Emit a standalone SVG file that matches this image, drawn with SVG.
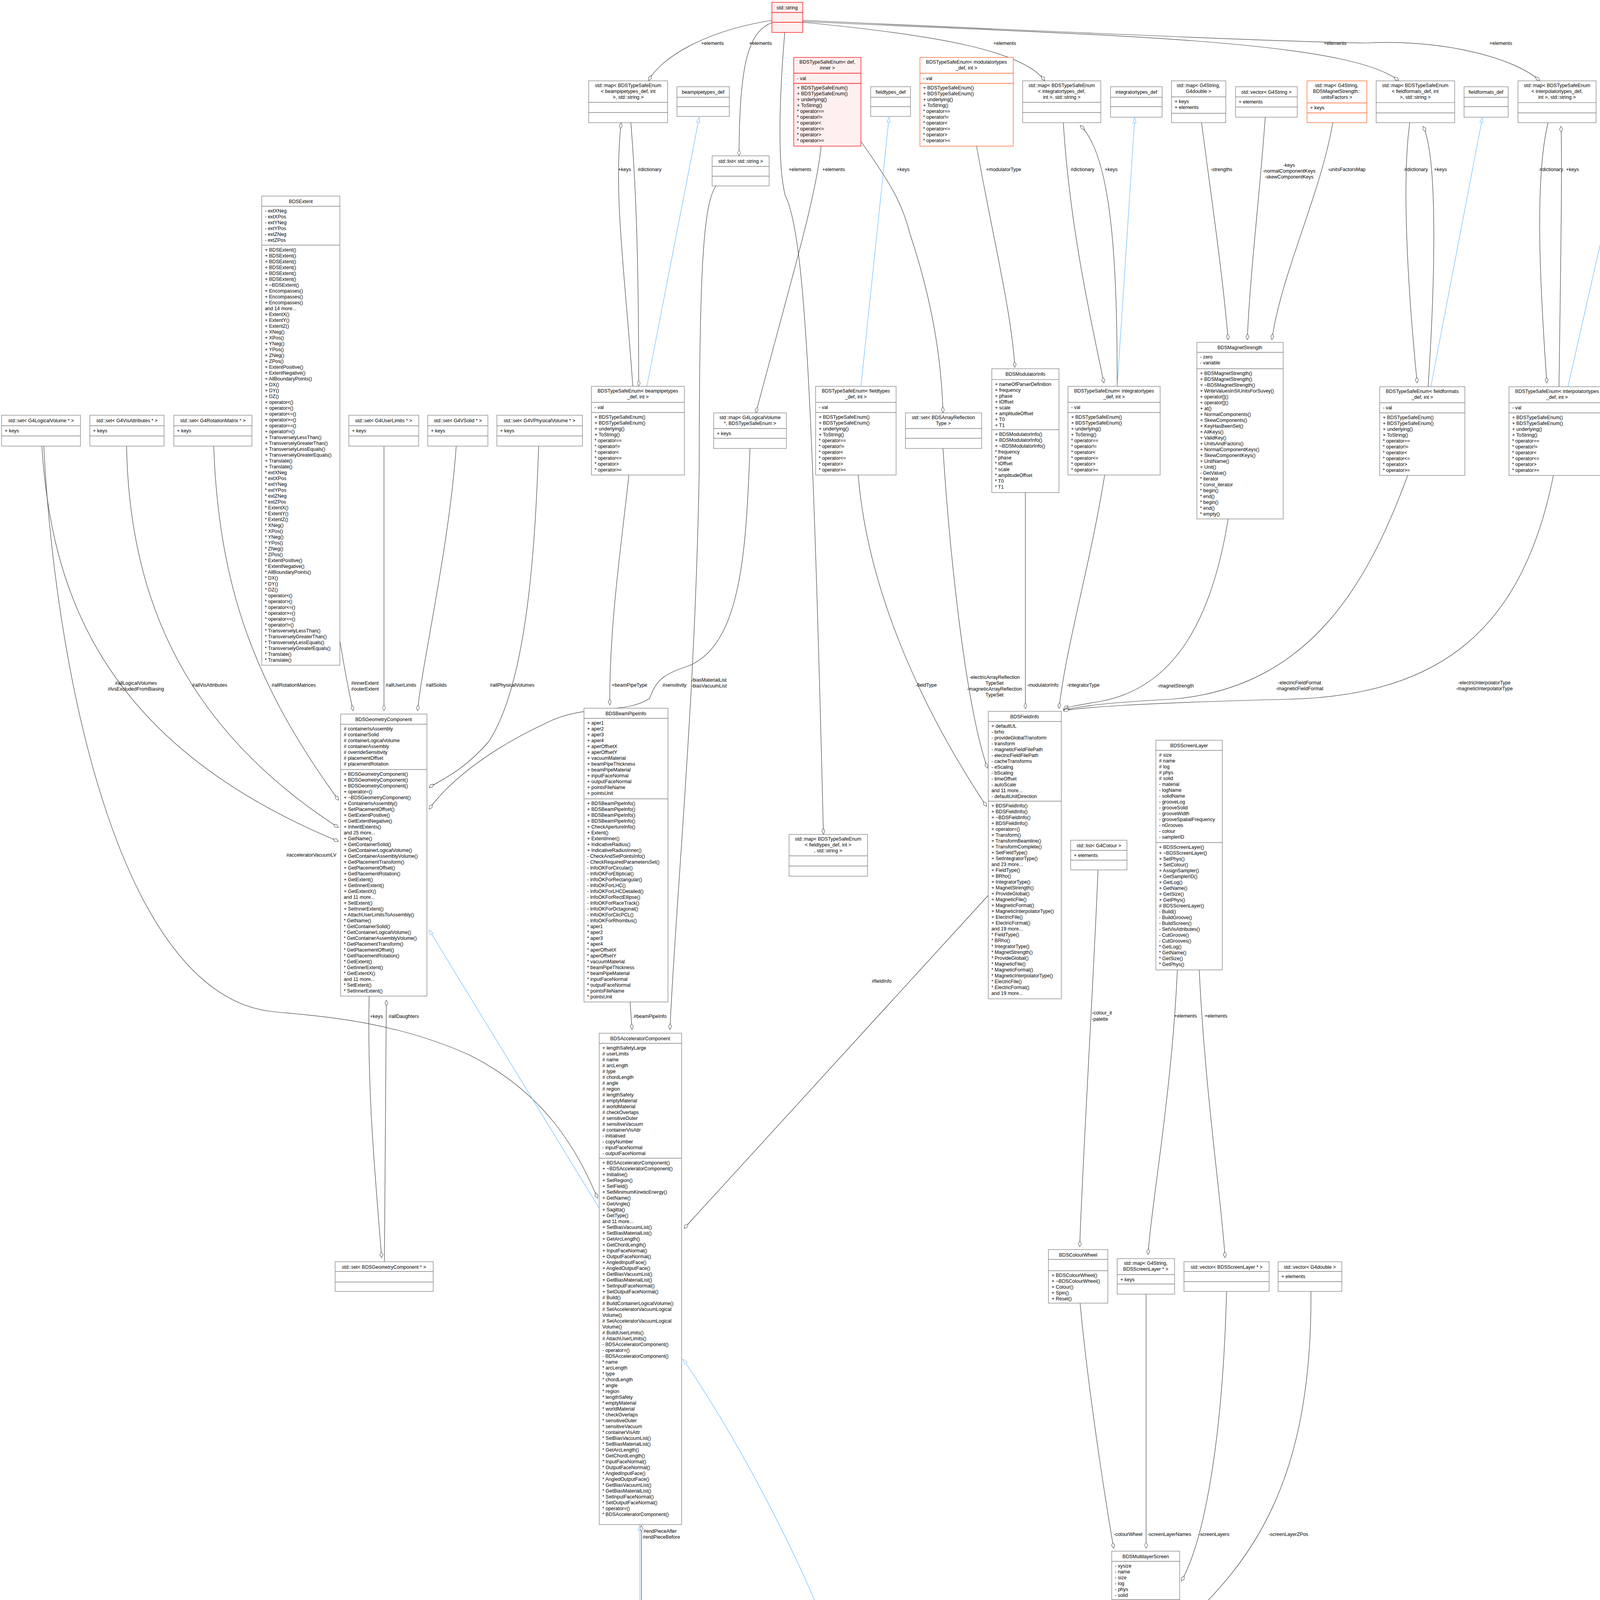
<svg xmlns="http://www.w3.org/2000/svg" width="4259" height="4765" viewBox="0 0 4259 4765">
<style>
text{font-family:"Liberation Sans",Arial,sans-serif;font-size:12.5px;fill:#000}
.t{text-anchor:middle}
.b{fill:#fff;stroke:#808080;stroke-width:1.3}
.r{fill:#fff0f0;stroke:#ff0000;stroke-width:1.3}
.o{fill:#fff;stroke:#ff6020;stroke-width:1.3}
.g{fill:#999;stroke:#666;stroke-width:1.3}
.dv{stroke:#808080;stroke-width:1.3;fill:none}
.dr{stroke:#ff0000;stroke-width:1.3;fill:none}
.do{stroke:#ff6020;stroke-width:1.3;fill:none}
.e{fill:none;stroke:#404040;stroke-width:1.2;marker-end:url(#dia)}
.i{fill:none;stroke:#63b8ff;stroke-width:1.2;marker-end:url(#tri)}
.l{text-anchor:start}
.lc{text-anchor:middle}
</style>
<defs>
<marker id="dia" viewBox="0 0 16 9" refX="16" refY="4.5" markerWidth="16" markerHeight="9" markerUnits="userSpaceOnUse" orient="auto"><path d="M0.5,4.5 L8,0.5 L15.5,4.5 L8,8.5 Z" fill="#fff" stroke="#404040" stroke-width="1"/></marker>
<marker id="tri" viewBox="0 0 14 10" refX="14" refY="5" markerWidth="14" markerHeight="10" markerUnits="userSpaceOnUse" orient="auto"><path d="M0.5,0.5 L13.5,5 L0.5,9.5 Z" fill="#fff" stroke="#63b8ff" stroke-width="1"/></marker>
</defs>
<rect width="4259" height="4765" fill="#fff"/>
<g id="edges">
<path class="e" d="M1976,52 C1800,80 1690,150 1660,207"/><text x="1824" y="115" class="lc">+elements</text>
<path class="e" d="M1976,58 C1920,80 1892,150 1892,399"/><text x="1947" y="115" class="lc">+elements</text>
<path class="e" d="M2009,83 C1995,250 1990,420 2010,500 C2060,600 2080,1000 2108,2136"/><text x="2048" y="438" class="lc">+elements</text>
<path class="e" d="M2102,374 C2090,500 2030,700 1935,1057"/><text x="2134" y="438" class="lc">+elements</text>
<path class="e" d="M2204,362 C2280,470 2310,520 2330,600 C2380,750 2410,900 2414,1057"/><text x="2312" y="438" class="lc">+keys</text>
<path class="e" d="M2055,57 C2400,90 2620,130 2675,207"/><text x="2572" y="115" class="lc">+elements</text>
<path class="e" d="M2055,55 C2800,90 3450,100 3581,207"/><text x="3418" y="115" class="lc">+elements</text>
<path class="e" d="M2055,52 C3000,95 3400,110 3500,110 C3700,100 3880,150 3942,207"/><text x="3842" y="115" class="lc">+elements</text>
<path class="e" d="M1620,989 C1600,700 1570,500 1590,314"/><text x="1599" y="438" class="lc">+keys</text>
<path class="e" d="M1615,314 C1630,500 1635,700 1635,989"/><text x="1663" y="438" class="lc">#dictionary</text>
<path class="i" d="M1656,989 L1790,300"/>
<path class="e" d="M1833,476 C1800,520 1790,700 1790,1200 C1780,1800 1730,2300 1715,2636"/><text x="1769" y="1745" class="l">-biasMaterialList</text><text x="1769" y="1760" class="l">-biasVacuumList</text>
<path class="i" d="M2204,989 L2276,300"/>
<path class="e" d="M2500,374 C2540,600 2590,800 2598,941"/><text x="2524" y="438" class="l">+modulatorType</text>
<path class="e" d="M2722,314 C2740,600 2800,850 2826,981"/><text x="2741" y="438" class="l">#dictionary</text>
<path class="e" d="M2860,990 C2860,700 2850,400 2765,321"/><text x="2828" y="438" class="l">+keys</text>
<path class="i" d="M2860,990 L2905,301"/>
<path class="e" d="M3076,314 C3100,500 3130,700 3144,870"/><text x="3099" y="438" class="l">-strengths</text>
<path class="e" d="M3239,300 C3225,500 3200,700 3193,870"/><text x="3300" y="427" class="lc">-keys</text><text x="3300" y="442" class="lc">-normalComponentKeys</text><text x="3300" y="457" class="lc">-skewComponentKeys</text>
<path class="e" d="M3412,314 C3380,500 3280,700 3256,870"/><text x="3399" y="438" class="l">-unitsFactorsMap</text>
<path class="e" d="M3609,314 C3590,450 3600,700 3628,981"/><text x="3595" y="438" class="l">#dictionary</text>
<path class="e" d="M3656,990 C3675,700 3680,400 3643,323"/><text x="3671" y="438" class="l">+keys</text>
<path class="i" d="M3663,990 L3795,301"/>
<path class="e" d="M3963,314 C3930,450 3940,700 3960,981"/><text x="3941" y="438" class="l">#dictionary</text>
<path class="e" d="M3991,990 C3995,700 4000,400 3996,323"/><text x="4009" y="438" class="l">+keys</text>
<path class="i" d="M4014,990 L4170,301"/>
<path class="e" d="M2197,1216 C2220,1500 2350,1800 2526,2065"/><text x="2344" y="1758" class="l">-fieldType</text>
<path class="e" d="M2414,1148 C2430,1400 2470,1800 2528,1967"/><text x="2546" y="1738" class="lc">-electricArrayReflection</text><text x="2546" y="1753" class="lc">TypeSet</text><text x="2546" y="1768" class="lc">-magneticArrayReflection</text><text x="2546" y="1783" class="lc">TypeSet</text>
<path class="e" d="M2625,1261 L2625,1815"/><text x="2629" y="1758" class="l">-modulatorInfo</text>
<path class="e" d="M2828,1216 C2790,1450 2730,1650 2711,1814"/><text x="2731" y="1758" class="l">-integratorType</text>
<path class="e" d="M3144,1329 C3100,1600 3000,1760 2820,1795 C2760,1805 2730,1810 2722,1816"/><text x="2963" y="1760" class="l">-magnetStrength</text>
<path class="e" d="M3604,1216 C3500,1500 3350,1760 3000,1790 C2800,1800 2750,1812 2722,1818"/><text x="3327" y="1752" class="lc">-electricFieldFormat</text><text x="3327" y="1767" class="lc">-magneticFieldFormat</text>
<path class="e" d="M3977,1216 C3900,1600 3700,1780 3300,1790 C2900,1800 2760,1812 2722,1820"/><text x="3800" y="1752" class="lc">-electricInterpolatorType</text><text x="3800" y="1767" class="lc">-magneticInterpolatorType</text>
<path class="e" d="M870,1640 C880,1700 895,1780 904,1820"/><text x="899" y="1753" class="l">#innerExtent</text><text x="899" y="1768" class="l">#outerExtent</text>
<path class="e" d="M983,1141 L983,1820"/><text x="987" y="1758" class="l">#allUserLimits</text>
<path class="e" d="M1168,1141 C1150,1400 1080,1700 1069,1820"/><text x="1090" y="1758" class="l">#allSolids</text>
<path class="e" d="M1379,1141 C1370,1400 1350,1750 1250,1900 C1180,1980 1120,2000 1098,2017"/><text x="1254" y="1758" class="l">#allPhysicalVolumes</text>
<path class="e" d="M547,1141 C560,1500 650,1750 867,2049"/><text x="695" y="1758" class="l">#allRotationMatrices</text>
<path class="e" d="M324,1141 C330,1500 450,1850 867,2119"/><text x="492" y="1758" class="l">#allVisAttributes</text>
<path class="e" d="M107,1141 C130,1500 250,1900 867,2154"/><text x="348" y="1753" class="lc">#allLogicalVolumes</text><text x="348" y="1768" class="lc">#lvsExcludedFromBiasing</text>
<path class="e" d="M112,1141 C140,1700 300,2550 700,2590 C800,2600 1000,2610 1200,2700 C1400,2800 1480,2950 1530,3068"/><text x="861" y="2193" text-anchor="end">#acceleratorVacuumLV</text>
<path class="e" d="M1920,1148 C1910,1400 1900,1650 1762,1705 C1700,1725 1680,1740 1663,1788 C1600,1830 1500,1800 1400,1850 C1250,1920 1150,2000 1098,2072"/><text x="1696" y="1758" class="l">#sensitivity</text>
<path class="e" d="M1610,1216 C1590,1400 1560,1600 1561,1805"/><text x="1566" y="1758" class="l">+beamPipeType</text>
<path class="e" d="M945,2550 C940,2800 960,3000 977,3220"/><text x="947" y="2606" class="l">+keys</text>
<path class="e" d="M984,3230 C985,3000 990,2700 989,2560"/><text x="995" y="2606" class="l">#allDaughters</text>
<path class="i" d="M1534,3093 L1098,2380"/>
<path class="e" d="M1613,2565 L1618,2636"/><text x="1622" y="2606" class="l">#beamPipeInfo</text>
<path class="e" d="M2530,2292 L1751,3145"/><text x="2257" y="2516" class="lc">#fieldInfo</text>
<path class="i" d="M1638,4143 L1638,3904"/>
<path class="e" d="M1642,4143 L1642,3905"/><text x="1647" y="3924" class="l">#endPieceAfter</text><text x="1645" y="3939" class="l">#endPieceBefore</text>
<path class="i" d="M2110,4158 C2050,4000 1900,3700 1748,3479"/>
<path class="i" d="M2522,4594 L2233,4311"/>
<path class="e" d="M2507,4273 C2505,4400 2520,4500 2537,4561"/><text x="2537" y="4530" class="l">-layerThicknesses</text>
<path class="e" d="M2674,4273 C2672,4400 2650,4500 2639,4561"/><text x="2650" y="4530" class="l">-layerMaterials</text>
<path class="e" d="M2846,4391 C2780,4470 2720,4580 2667,4604"/><text x="2757" y="4530" class="l">-mlScreen</text>
<path class="e" d="M2811,2227 C2800,2500 2770,3000 2764,3192"/><text x="2795" y="2597" class="l">-colour_it</text><text x="2795" y="2613" class="l">-palette</text>
<path class="e" d="M3014,2483 C3000,2800 2945,3100 2939,3212"/><text x="3006" y="2605" class="l">+elements</text>
<path class="e" d="M3070,2483 C3085,2800 3130,3100 3136,3220"/><text x="3084" y="2605" class="l">+elements</text>
<path class="e" d="M2765,3336 C2790,3600 2840,3900 2851,3964"/><text x="2851" y="3932" class="l">-colourWheel</text>
<path class="e" d="M2934,3313 L2934,3964"/><text x="2937" y="3932" class="l">-screenLayerNames</text>
<path class="e" d="M3140,3305 C3130,3700 3080,3950 3024,4048"/><text x="3068" y="3932" class="l">-screenLayers</text>
<path class="e" d="M3356,3305 C3360,3800 3200,4000 3027,4162"/><text x="3247" y="3932" class="l">-screenLayerZPos</text>
</g>

<g id="n_string"><rect class="r" x="1976" y="6" width="79" height="77"/><path class="dr" d="M1976,32H2055M1976,57H2055"/><text class="t" x="2015" y="24">std::string</text></g>
<g id="n_map_beampipe"><rect class="b" x="1507" y="207" width="202" height="107"/><path class="dv" d="M1507,262H1709M1507,288H1709"/><text class="t" x="1608" y="223">std::map&lt; BDSTypeSafeEnum</text><text class="t" x="1608" y="238">&lt; beampipetypes_def, int</text><text class="t" x="1608" y="253">&gt;, std::string &gt;</text></g>
<g id="n_beampipetypes_def"><rect class="b" x="1733" y="222" width="134" height="76"/><path class="dv" d="M1733,249H1867M1733,273H1867"/><text class="t" x="1800" y="240">beampipetypes_def</text></g>
<g id="n_list_string"><rect class="b" x="1823" y="399" width="146" height="77"/><path class="dv" d="M1823,426H1969M1823,451H1969"/><text class="t" x="1896" y="417">std::list&lt; std::string &gt;</text></g>
<g id="n_enum_def_inner"><rect class="r" x="2032" y="147" width="172" height="227"/><path class="dr" d="M2032,187.5H2204M2032,213.5H2204"/><text class="t" x="2118" y="163">BDSTypeSafeEnum&lt; def,</text><text class="t" x="2118" y="178">inner &gt;</text><text x="2040" y="205">- val</text><text x="2040" y="229"><tspan x="2040">+ BDSTypeSafeEnum()</tspan><tspan x="2040" dy="15">+ BDSTypeSafeEnum()</tspan><tspan x="2040" dy="15">+ underlying()</tspan><tspan x="2040" dy="15">+ ToString()</tspan><tspan x="2040" dy="15">* operator==</tspan><tspan x="2040" dy="15">* operator!=</tspan><tspan x="2040" dy="15">* operator&lt;</tspan><tspan x="2040" dy="15">* operator&lt;=</tspan><tspan x="2040" dy="15">* operator&gt;</tspan><tspan x="2040" dy="15">* operator&gt;=</tspan></text></g>
<g id="n_fieldtypes_def"><rect class="b" x="2229" y="222" width="102" height="76"/><path class="dv" d="M2229,249H2331M2229,273H2331"/><text class="t" x="2280" y="240">fieldtypes_def</text></g>
<g id="n_enum_modulator"><rect class="o" x="2355" y="147" width="239" height="227"/><path class="do" d="M2355,187.5H2594M2355,213.5H2594"/><text class="t" x="2474" y="163">BDSTypeSafeEnum&lt; modulatortypes</text><text class="t" x="2474" y="178">_def, int &gt;</text><text x="2363" y="205">- val</text><text x="2363" y="229"><tspan x="2363">+ BDSTypeSafeEnum()</tspan><tspan x="2363" dy="15">+ BDSTypeSafeEnum()</tspan><tspan x="2363" dy="15">+ underlying()</tspan><tspan x="2363" dy="15">+ ToString()</tspan><tspan x="2363" dy="15">* operator==</tspan><tspan x="2363" dy="15">* operator!=</tspan><tspan x="2363" dy="15">* operator&lt;</tspan><tspan x="2363" dy="15">* operator&lt;=</tspan><tspan x="2363" dy="15">* operator&gt;</tspan><tspan x="2363" dy="15">* operator&gt;=</tspan></text></g>
<g id="n_map_integrator"><rect class="b" x="2618" y="207" width="200" height="107"/><path class="dv" d="M2618,262H2818M2618,288H2818"/><text class="t" x="2718" y="223">std::map&lt; BDSTypeSafeEnum</text><text class="t" x="2718" y="238">&lt; integratortypes_def,</text><text class="t" x="2718" y="253">int &gt;, std::string &gt;</text></g>
<g id="n_integratortypes_def"><rect class="b" x="2843" y="222" width="132" height="78"/><path class="dv" d="M2843,249H2975M2843,273H2975"/><text class="t" x="2909" y="240">integratortypes_def</text></g>
<g id="n_map_g4s_g4d"><rect class="b" x="2999" y="207" width="139" height="107"/><path class="dv" d="M2999,248H3138M2999,290H3138"/><text class="t" x="3068" y="223">std::map&lt; G4String,</text><text class="t" x="3068" y="238">G4double &gt;</text><text x="3007" y="264">+ keys</text><text x="3007" y="279">+ elements</text></g>
<g id="n_vector_g4string"><rect class="b" x="3163" y="222" width="158" height="78"/><path class="dv" d="M3163,248H3321M3163,274H3321"/><text class="t" x="3242" y="240">std::vector&lt; G4String &gt;</text><text x="3171" y="265">+ elements</text></g>
<g id="n_map_unitsFactors"><rect class="o" x="3346" y="207" width="153" height="107"/><path class="do" d="M3346,263.5H3499M3346,289H3499"/><text class="t" x="3422" y="223">std::map&lt; G4String,</text><text class="t" x="3422" y="238">BDSMagnetStrength::</text><text class="t" x="3422" y="253">unitsFactors &gt;</text><text x="3354" y="280">+ keys</text></g>
<g id="n_map_fieldformats"><rect class="b" x="3523" y="207" width="201" height="107"/><path class="dv" d="M3523,262.6H3724M3523,289H3724"/><text class="t" x="3623" y="223">std::map&lt; BDSTypeSafeEnum</text><text class="t" x="3623" y="238">&lt; fieldformats_def, int</text><text class="t" x="3623" y="253">&gt;, std::string &gt;</text></g>
<g id="n_fieldformats_def"><rect class="b" x="3748" y="222" width="113" height="78"/><path class="dv" d="M3748,249H3861M3748,273H3861"/><text class="t" x="3804" y="240">fieldformats_def</text></g>
<g id="n_map_interp"><rect class="b" x="3886" y="207" width="200" height="107"/><path class="dv" d="M3886,262.6H4086M3886,289H4086"/><text class="t" x="3986" y="223">std::map&lt; BDSTypeSafeEnum</text><text class="t" x="3986" y="238">&lt; interpolatortypes_def,</text><text class="t" x="3986" y="253">int &gt;, std::string &gt;</text></g>
<g id="n_interpolatortypes_def"><rect class="b" x="4111" y="222" width="142" height="78"/><path class="dv" d="M4111,249H4253M4111,273H4253"/><text class="t" x="4182" y="240">interpolatortypes_def</text></g>

<g id="n_enum_beampipe"><rect class="b" x="1514" y="989" width="238" height="227"/><path class="dv" d="M1514,1030H1752M1514,1056H1752"/><text class="t" x="1633" y="1005">BDSTypeSafeEnum&lt; beampipetypes</text><text class="t" x="1633" y="1020">_def, int &gt;</text><text x="1522" y="1047">- val</text><text x="1522" y="1072"><tspan x="1522">+ BDSTypeSafeEnum()</tspan><tspan x="1522" dy="15">+ BDSTypeSafeEnum()</tspan><tspan x="1522" dy="15">+ underlying()</tspan><tspan x="1522" dy="15">+ ToString()</tspan><tspan x="1522" dy="15">* operator==</tspan><tspan x="1522" dy="15">* operator!=</tspan><tspan x="1522" dy="15">* operator&lt;</tspan><tspan x="1522" dy="15">* operator&lt;=</tspan><tspan x="1522" dy="15">* operator&gt;</tspan><tspan x="1522" dy="15">* operator&gt;=</tspan></text></g>
<g id="n_map_lv"><rect class="b" x="1827" y="1057" width="186" height="91"/><path class="dv" d="M1827,1097H2013M1827,1122H2013"/><text class="t" x="1920" y="1073">std::map&lt; G4LogicalVolume</text><text class="t" x="1920" y="1088">*, BDSTypeSafeEnum &gt;</text><text x="1835" y="1114">+ keys</text></g>
<g id="n_enum_fieldtypes"><rect class="b" x="2088" y="989" width="206" height="227"/><path class="dv" d="M2088,1030H2294M2088,1056H2294"/><text class="t" x="2191" y="1005">BDSTypeSafeEnum&lt; fieldtypes</text><text class="t" x="2191" y="1020">_def, int &gt;</text><text x="2096" y="1047">- val</text><text x="2096" y="1072"><tspan x="2096">+ BDSTypeSafeEnum()</tspan><tspan x="2096" dy="15">+ BDSTypeSafeEnum()</tspan><tspan x="2096" dy="15">+ underlying()</tspan><tspan x="2096" dy="15">+ ToString()</tspan><tspan x="2096" dy="15">* operator==</tspan><tspan x="2096" dy="15">* operator!=</tspan><tspan x="2096" dy="15">* operator&lt;</tspan><tspan x="2096" dy="15">* operator&lt;=</tspan><tspan x="2096" dy="15">* operator&gt;</tspan><tspan x="2096" dy="15">* operator&gt;=</tspan></text></g>
<g id="n_set_arrayrefl"><rect class="b" x="2318" y="1057" width="195" height="91"/><path class="dv" d="M2318,1097H2513M2318,1122H2513"/><text class="t" x="2415" y="1073">std::set&lt; BDSArrayReflection</text><text class="t" x="2415" y="1088">Type &gt;</text></g>
<g id="n_modulatorinfo"><rect class="b" x="2539" y="944" width="172" height="317"/><path class="dv" d="M2539,971.6H2711M2539,1100H2711"/><text class="t" x="2625" y="962">BDSModulatorInfo</text><text x="2547" y="988"><tspan x="2547">+ nameOfParserDefinition</tspan><tspan x="2547" dy="15">+ frequency</tspan><tspan x="2547" dy="15">+ phase</tspan><tspan x="2547" dy="15">+ tOffset</tspan><tspan x="2547" dy="15">+ scale</tspan><tspan x="2547" dy="15">+ amplitudeOffset</tspan><tspan x="2547" dy="15">+ T0</tspan><tspan x="2547" dy="15">+ T1</tspan></text><text x="2547" y="1116"><tspan x="2547">+ BDSModulatorInfo()</tspan><tspan x="2547" dy="15">+ BDSModulatorInfo()</tspan><tspan x="2547" dy="15">+ ~BDSModulatorInfo()</tspan><tspan x="2547" dy="15">* frequency</tspan><tspan x="2547" dy="15">* phase</tspan><tspan x="2547" dy="15">* tOffset</tspan><tspan x="2547" dy="15">* scale</tspan><tspan x="2547" dy="15">* amplitudeOffset</tspan><tspan x="2547" dy="15">* T0</tspan><tspan x="2547" dy="15">* T1</tspan></text></g>
<g id="n_enum_integrator"><rect class="b" x="2734" y="989" width="236" height="227"/><path class="dv" d="M2734,1030H2970M2734,1056H2970"/><text class="t" x="2852" y="1005">BDSTypeSafeEnum&lt; integratortypes</text><text class="t" x="2852" y="1020">_def, int &gt;</text><text x="2742" y="1047">- val</text><text x="2742" y="1072"><tspan x="2742">+ BDSTypeSafeEnum()</tspan><tspan x="2742" dy="15">+ BDSTypeSafeEnum()</tspan><tspan x="2742" dy="15">+ underlying()</tspan><tspan x="2742" dy="15">+ ToString()</tspan><tspan x="2742" dy="15">* operator==</tspan><tspan x="2742" dy="15">* operator!=</tspan><tspan x="2742" dy="15">* operator&lt;</tspan><tspan x="2742" dy="15">* operator&lt;=</tspan><tspan x="2742" dy="15">* operator&gt;</tspan><tspan x="2742" dy="15">* operator&gt;=</tspan></text></g>
<g id="n_magnetstrength"><rect class="b" x="3064" y="876.5" width="221" height="452"/><path class="dv" d="M3064,902H3285M3064,944H3285"/><text class="t" x="3174" y="894">BDSMagnetStrength</text><text x="3072" y="918">- zero</text><text x="3072" y="933">- variable</text><text x="3072" y="960"><tspan x="3072">+ BDSMagnetStrength()</tspan><tspan x="3072" dy="15">+ BDSMagnetStrength()</tspan><tspan x="3072" dy="15">+ ~BDSMagnetStrength()</tspan><tspan x="3072" dy="15">+ WriteValuesInSIUnitsForSuvey()</tspan><tspan x="3072" dy="15">+ operator[]()</tspan><tspan x="3072" dy="15">+ operator[]()</tspan><tspan x="3072" dy="15">+ at()</tspan><tspan x="3072" dy="15">+ NormalComponents()</tspan><tspan x="3072" dy="15">+ SkewComponents()</tspan><tspan x="3072" dy="15">+ KeyHasBeenSet()</tspan><tspan x="3072" dy="15">+ AllKeys()</tspan><tspan x="3072" dy="15">+ ValidKey()</tspan><tspan x="3072" dy="15">+ UnitsAndFactors()</tspan><tspan x="3072" dy="15">+ NormalComponentKeys()</tspan><tspan x="3072" dy="15">+ SkewComponentKeys()</tspan><tspan x="3072" dy="15">+ UnitName()</tspan><tspan x="3072" dy="15">+ Unit()</tspan><tspan x="3072" dy="15">- GetValue()</tspan><tspan x="3072" dy="15">* iterator</tspan><tspan x="3072" dy="15">* const_iterator</tspan><tspan x="3072" dy="15">* begin()</tspan><tspan x="3072" dy="15">* end()</tspan><tspan x="3072" dy="15">* begin()</tspan><tspan x="3072" dy="15">* end()</tspan><tspan x="3072" dy="15">* empty()</tspan></text></g>
<g id="n_enum_fieldformats"><rect class="b" x="3532" y="990" width="218" height="227"/><path class="dv" d="M3532,1031H3750M3532,1057H3750"/><text class="t" x="3641" y="1006">BDSTypeSafeEnum&lt; fieldformats</text><text class="t" x="3641" y="1021">_def, int &gt;</text><text x="3540" y="1048">- val</text><text x="3540" y="1073"><tspan x="3540">+ BDSTypeSafeEnum()</tspan><tspan x="3540" dy="15">+ BDSTypeSafeEnum()</tspan><tspan x="3540" dy="15">+ underlying()</tspan><tspan x="3540" dy="15">+ ToString()</tspan><tspan x="3540" dy="15">* operator==</tspan><tspan x="3540" dy="15">* operator!=</tspan><tspan x="3540" dy="15">* operator&lt;</tspan><tspan x="3540" dy="15">* operator&lt;=</tspan><tspan x="3540" dy="15">* operator&gt;</tspan><tspan x="3540" dy="15">* operator&gt;=</tspan></text></g>
<g id="n_enum_interp"><rect class="b" x="3863" y="990" width="246" height="227"/><path class="dv" d="M3863,1031H4109M3863,1057H4109"/><text class="t" x="3986" y="1006">BDSTypeSafeEnum&lt; interpolatortypes</text><text class="t" x="3986" y="1021">_def, int &gt;</text><text x="3871" y="1048">- val</text><text x="3871" y="1073"><tspan x="3871">+ BDSTypeSafeEnum()</tspan><tspan x="3871" dy="15">+ BDSTypeSafeEnum()</tspan><tspan x="3871" dy="15">+ underlying()</tspan><tspan x="3871" dy="15">+ ToString()</tspan><tspan x="3871" dy="15">* operator==</tspan><tspan x="3871" dy="15">* operator!=</tspan><tspan x="3871" dy="15">* operator&lt;</tspan><tspan x="3871" dy="15">* operator&lt;=</tspan><tspan x="3871" dy="15">* operator&gt;</tspan><tspan x="3871" dy="15">* operator&gt;=</tspan></text></g>

<g id="n_set_lv"><rect class="b" x="4" y="1063" width="202" height="79"/><path class="dv" d="M4,1090H206M4,1116H206"/><text class="t" x="105" y="1081">std::set&lt; G4LogicalVolume * &gt;</text><text x="12" y="1107">+ keys</text></g>
<g id="n_set_vis"><rect class="b" x="230" y="1063" width="190" height="79"/><path class="dv" d="M230,1090H420M230,1116H420"/><text class="t" x="325" y="1081">std::set&lt; G4VisAttributes * &gt;</text><text x="238" y="1107">+ keys</text></g>
<g id="n_set_rot"><rect class="b" x="445" y="1063" width="200" height="79"/><path class="dv" d="M445,1090H645M445,1116H645"/><text class="t" x="545" y="1081">std::set&lt; G4RotationMatrix * &gt;</text><text x="453" y="1107">+ keys</text></g>
<g id="n_set_ul"><rect class="b" x="893" y="1063" width="179" height="79"/><path class="dv" d="M893,1090H1072M893,1116H1072"/><text class="t" x="982" y="1081">std::set&lt; G4UserLimits * &gt;</text><text x="901" y="1107">+ keys</text></g>
<g id="n_set_solid"><rect class="b" x="1095" y="1063" width="154" height="79"/><path class="dv" d="M1095,1090H1249M1095,1116H1249"/><text class="t" x="1172" y="1081">std::set&lt; G4VSolid * &gt;</text><text x="1103" y="1107">+ keys</text></g>
<g id="n_set_pv"><rect class="b" x="1272" y="1063" width="219" height="79"/><path class="dv" d="M1272,1090H1491M1272,1116H1491"/><text class="t" x="1381" y="1081">std::set&lt; G4VPhysicalVolume * &gt;</text><text x="1280" y="1107">+ keys</text></g>

<g id="n_extent"><rect class="b" x="670" y="502" width="200" height="1201"/><path class="dv" d="M670,528H870M670,627.5H870"/><text class="t" x="770" y="520">BDSExtent</text>
<text x="678" y="544"><tspan x="678">- extXNeg</tspan><tspan x="678" dy="15">- extXPos</tspan><tspan x="678" dy="15">- extYNeg</tspan><tspan x="678" dy="15">- extYPos</tspan><tspan x="678" dy="15">- extZNeg</tspan><tspan x="678" dy="15">- extZPos</tspan></text>
<text x="678" y="644"><tspan x="678">+ BDSExtent()</tspan><tspan x="678" dy="15">+ BDSExtent()</tspan><tspan x="678" dy="15">+ BDSExtent()</tspan><tspan x="678" dy="15">+ BDSExtent()</tspan><tspan x="678" dy="15">+ BDSExtent()</tspan><tspan x="678" dy="15">+ BDSExtent()</tspan><tspan x="678" dy="15">+ ~BDSExtent()</tspan><tspan x="678" dy="15">+ Encompasses()</tspan><tspan x="678" dy="15">+ Encompasses()</tspan><tspan x="678" dy="15">+ Encompasses()</tspan><tspan x="678" dy="15">and 14 more...</tspan><tspan x="678" dy="15">+ ExtentX()</tspan><tspan x="678" dy="15">+ ExtentY()</tspan><tspan x="678" dy="15">+ ExtentZ()</tspan><tspan x="678" dy="15">+ XNeg()</tspan><tspan x="678" dy="15">+ XPos()</tspan><tspan x="678" dy="15">+ YNeg()</tspan><tspan x="678" dy="15">+ YPos()</tspan><tspan x="678" dy="15">+ ZNeg()</tspan><tspan x="678" dy="15">+ ZPos()</tspan><tspan x="678" dy="15">+ ExtentPositive()</tspan><tspan x="678" dy="15">+ ExtentNegative()</tspan><tspan x="678" dy="15">+ AllBoundaryPoints()</tspan><tspan x="678" dy="15">+ DX()</tspan><tspan x="678" dy="15">+ DY()</tspan><tspan x="678" dy="15">+ DZ()</tspan><tspan x="678" dy="15">+ operator&lt;()</tspan><tspan x="678" dy="15">+ operator&gt;()</tspan><tspan x="678" dy="15">+ operator&lt;=()</tspan><tspan x="678" dy="15">+ operator&gt;=()</tspan><tspan x="678" dy="15">+ operator==()</tspan><tspan x="678" dy="15">+ operator!=()</tspan><tspan x="678" dy="15">+ TransverselyLessThan()</tspan><tspan x="678" dy="15">+ TransverselyGreaterThan()</tspan><tspan x="678" dy="15">+ TransverselyLessEquals()</tspan><tspan x="678" dy="15">+ TransverselyGreaterEquals()</tspan><tspan x="678" dy="15">+ Translate()</tspan><tspan x="678" dy="15">+ Translate()</tspan><tspan x="678" dy="15">* extXNeg</tspan><tspan x="678" dy="15">* extXPos</tspan><tspan x="678" dy="15">* extYNeg</tspan><tspan x="678" dy="15">* extYPos</tspan><tspan x="678" dy="15">* extZNeg</tspan><tspan x="678" dy="15">* extZPos</tspan><tspan x="678" dy="15">* ExtentX()</tspan><tspan x="678" dy="15">* ExtentY()</tspan><tspan x="678" dy="15">* ExtentZ()</tspan><tspan x="678" dy="15">* XNeg()</tspan><tspan x="678" dy="15">* XPos()</tspan><tspan x="678" dy="15">* YNeg()</tspan><tspan x="678" dy="15">* YPos()</tspan><tspan x="678" dy="15">* ZNeg()</tspan><tspan x="678" dy="15">* ZPos()</tspan><tspan x="678" dy="15">* ExtentPositive()</tspan><tspan x="678" dy="15">* ExtentNegative()</tspan><tspan x="678" dy="15">* AllBoundaryPoints()</tspan><tspan x="678" dy="15">* DX()</tspan><tspan x="678" dy="15">* DY()</tspan><tspan x="678" dy="15">* DZ()</tspan><tspan x="678" dy="15">* operator&lt;()</tspan><tspan x="678" dy="15">* operator&gt;()</tspan><tspan x="678" dy="15">* operator&lt;=()</tspan><tspan x="678" dy="15">* operator&gt;=()</tspan><tspan x="678" dy="15">* operator==()</tspan><tspan x="678" dy="15">* operator!=()</tspan><tspan x="678" dy="15">* TransverselyLessThan()</tspan><tspan x="678" dy="15">* TransverselyGreaterThan()</tspan><tspan x="678" dy="15">* TransverselyLessEquals()</tspan><tspan x="678" dy="15">* TransverselyGreaterEquals()</tspan><tspan x="678" dy="15">* Translate()</tspan><tspan x="678" dy="15">* Translate()</tspan></text></g>

<g id="n_geocomp"><rect class="b" x="872" y="1828" width="221" height="722"/><path class="dv" d="M872,1854H1093M872,1970H1093"/><text class="t" x="982" y="1846">BDSGeometryComponent</text>
<text x="880" y="1870"><tspan x="880"># containerIsAssembly</tspan><tspan x="880" dy="15"># containerSolid</tspan><tspan x="880" dy="15"># containerLogicalVolume</tspan><tspan x="880" dy="15"># containerAssembly</tspan><tspan x="880" dy="15"># overrideSensitivity</tspan><tspan x="880" dy="15"># placementOffset</tspan><tspan x="880" dy="15"># placementRotation</tspan></text>
<text x="880" y="1986"><tspan x="880">+ BDSGeometryComponent()</tspan><tspan x="880" dy="15">+ BDSGeometryComponent()</tspan><tspan x="880" dy="15">+ BDSGeometryComponent()</tspan><tspan x="880" dy="15">+ operator=()</tspan><tspan x="880" dy="15">+ ~BDSGeometryComponent()</tspan><tspan x="880" dy="15">+ ContainerIsAssembly()</tspan><tspan x="880" dy="15">+ SetPlacementOffset()</tspan><tspan x="880" dy="15">+ GetExtentPositive()</tspan><tspan x="880" dy="15">+ GetExtentNegative()</tspan><tspan x="880" dy="15">+ InheritExtents()</tspan><tspan x="880" dy="15">and 25 more...</tspan><tspan x="880" dy="15">+ GetName()</tspan><tspan x="880" dy="15">+ GetContainerSolid()</tspan><tspan x="880" dy="15">+ GetContainerLogicalVolume()</tspan><tspan x="880" dy="15">+ GetContainerAssemblyVolume()</tspan><tspan x="880" dy="15">+ GetPlacementTransform()</tspan><tspan x="880" dy="15">+ GetPlacementOffset()</tspan><tspan x="880" dy="15">+ GetPlacementRotation()</tspan><tspan x="880" dy="15">+ GetExtent()</tspan><tspan x="880" dy="15">+ GetInnerExtent()</tspan><tspan x="880" dy="15">+ GetExtentX()</tspan><tspan x="880" dy="15">and 11 more...</tspan><tspan x="880" dy="15">+ SetExtent()</tspan><tspan x="880" dy="15">+ SetInnerExtent()</tspan><tspan x="880" dy="15">+ AttachUserLimitsToAssembly()</tspan><tspan x="880" dy="15">* GetName()</tspan><tspan x="880" dy="15">* GetContainerSolid()</tspan><tspan x="880" dy="15">* GetContainerLogicalVolume()</tspan><tspan x="880" dy="15">* GetContainerAssemblyVolume()</tspan><tspan x="880" dy="15">* GetPlacementTransform()</tspan><tspan x="880" dy="15">* GetPlacementOffset()</tspan><tspan x="880" dy="15">* GetPlacementRotation()</tspan><tspan x="880" dy="15">* GetExtent()</tspan><tspan x="880" dy="15">* GetInnerExtent()</tspan><tspan x="880" dy="15">* GetExtentX()</tspan><tspan x="880" dy="15">and 11 more...</tspan><tspan x="880" dy="15">* SetExtent()</tspan><tspan x="880" dy="15">* SetInnerExtent()</tspan></text></g>

<g id="n_beampipeinfo"><rect class="b" x="1495" y="1813" width="215" height="752"/><path class="dv" d="M1495,1839H1710M1495,2045H1710"/><text class="t" x="1602" y="1831">BDSBeamPipeInfo</text>
<text x="1503" y="1855"><tspan x="1503">+ aper1</tspan><tspan x="1503" dy="15">+ aper2</tspan><tspan x="1503" dy="15">+ aper3</tspan><tspan x="1503" dy="15">+ aper4</tspan><tspan x="1503" dy="15">+ aperOffsetX</tspan><tspan x="1503" dy="15">+ aperOffsetY</tspan><tspan x="1503" dy="15">+ vacuumMaterial</tspan><tspan x="1503" dy="15">+ beamPipeThickness</tspan><tspan x="1503" dy="15">+ beamPipeMaterial</tspan><tspan x="1503" dy="15">+ inputFaceNormal</tspan><tspan x="1503" dy="15">+ outputFaceNormal</tspan><tspan x="1503" dy="15">+ pointsFileName</tspan><tspan x="1503" dy="15">+ pointsUnit</tspan></text>
<text x="1503" y="2061"><tspan x="1503">+ BDSBeamPipeInfo()</tspan><tspan x="1503" dy="15">+ BDSBeamPipeInfo()</tspan><tspan x="1503" dy="15">+ BDSBeamPipeInfo()</tspan><tspan x="1503" dy="15">+ BDSBeamPipeInfo()</tspan><tspan x="1503" dy="15">+ CheckApertureInfo()</tspan><tspan x="1503" dy="15">+ Extent()</tspan><tspan x="1503" dy="15">+ ExtentInner()</tspan><tspan x="1503" dy="15">+ IndicativeRadius()</tspan><tspan x="1503" dy="15">+ IndicativeRadiusInner()</tspan><tspan x="1503" dy="15">- CheckAndSetPointsInfo()</tspan><tspan x="1503" dy="15">- CheckRequiredParametersSet()</tspan><tspan x="1503" dy="15">- InfoOKForCircular()</tspan><tspan x="1503" dy="15">- InfoOKForElliptical()</tspan><tspan x="1503" dy="15">- InfoOKForRectangular()</tspan><tspan x="1503" dy="15">- InfoOKForLHC()</tspan><tspan x="1503" dy="15">- InfoOKForLHCDetailed()</tspan><tspan x="1503" dy="15">- InfoOKForRectEllipse()</tspan><tspan x="1503" dy="15">- InfoOKForRaceTrack()</tspan><tspan x="1503" dy="15">- InfoOKForOctagonal()</tspan><tspan x="1503" dy="15">- InfoOKForClicPCL()</tspan><tspan x="1503" dy="15">- InfoOKForRhombus()</tspan><tspan x="1503" dy="15">* aper1</tspan><tspan x="1503" dy="15">* aper2</tspan><tspan x="1503" dy="15">* aper3</tspan><tspan x="1503" dy="15">* aper4</tspan><tspan x="1503" dy="15">* aperOffsetX</tspan><tspan x="1503" dy="15">* aperOffsetY</tspan><tspan x="1503" dy="15">* vacuumMaterial</tspan><tspan x="1503" dy="15">* beamPipeThickness</tspan><tspan x="1503" dy="15">* beamPipeMaterial</tspan><tspan x="1503" dy="15">* inputFaceNormal</tspan><tspan x="1503" dy="15">* outputFaceNormal</tspan><tspan x="1503" dy="15">* pointsFileName</tspan><tspan x="1503" dy="15">* pointsUnit</tspan></text></g>

<g id="n_map_fieldtypes"><rect class="b" x="2020" y="2136" width="201" height="107"/><path class="dv" d="M2020,2191H2221M2020,2217H2221"/><text class="t" x="2120" y="2152">std::map&lt; BDSTypeSafeEnum</text><text class="t" x="2120" y="2167">&lt; fieldtypes_def, int &gt;</text><text class="t" x="2120" y="2182">, std::string &gt;</text></g>

<g id="n_fieldinfo"><rect class="b" x="2530" y="1821" width="187" height="736"/><path class="dv" d="M2530,1847H2717M2530,2051H2717"/><text class="t" x="2623" y="1839">BDSFieldInfo</text>
<text x="2538" y="1863"><tspan x="2538">+ defaultUL</tspan><tspan x="2538" dy="15">- brho</tspan><tspan x="2538" dy="15">- provideGlobalTransform</tspan><tspan x="2538" dy="15">- transform</tspan><tspan x="2538" dy="15">- magneticFieldFilePath</tspan><tspan x="2538" dy="15">- electricFieldFilePath</tspan><tspan x="2538" dy="15">- cacheTransforms</tspan><tspan x="2538" dy="15">- eScaling</tspan><tspan x="2538" dy="15">- bScaling</tspan><tspan x="2538" dy="15">- timeOffset</tspan><tspan x="2538" dy="15">- autoScale</tspan><tspan x="2538" dy="15">and 11 more...</tspan><tspan x="2538" dy="15">- defaultUnitDirection</tspan></text>
<text x="2538" y="2067"><tspan x="2538">+ BDSFieldInfo()</tspan><tspan x="2538" dy="15">+ BDSFieldInfo()</tspan><tspan x="2538" dy="15">+ ~BDSFieldInfo()</tspan><tspan x="2538" dy="15">+ BDSFieldInfo()</tspan><tspan x="2538" dy="15">+ operator=()</tspan><tspan x="2538" dy="15">+ Transform()</tspan><tspan x="2538" dy="15">+ TransformBeamline()</tspan><tspan x="2538" dy="15">+ TransformComplete()</tspan><tspan x="2538" dy="15">+ SetFieldType()</tspan><tspan x="2538" dy="15">+ SetIntegratorType()</tspan><tspan x="2538" dy="15">and 23 more...</tspan><tspan x="2538" dy="15">+ FieldType()</tspan><tspan x="2538" dy="15">+ BRho()</tspan><tspan x="2538" dy="15">+ IntegratorType()</tspan><tspan x="2538" dy="15">+ MagnetStrength()</tspan><tspan x="2538" dy="15">+ ProvideGlobal()</tspan><tspan x="2538" dy="15">+ MagneticFile()</tspan><tspan x="2538" dy="15">+ MagneticFormat()</tspan><tspan x="2538" dy="15">+ MagneticInterpolatorType()</tspan><tspan x="2538" dy="15">+ ElectricFile()</tspan><tspan x="2538" dy="15">+ ElectricFormat()</tspan><tspan x="2538" dy="15">and 19 more...</tspan><tspan x="2538" dy="15">* FieldType()</tspan><tspan x="2538" dy="15">* BRho()</tspan><tspan x="2538" dy="15">* IntegratorType()</tspan><tspan x="2538" dy="15">* MagnetStrength()</tspan><tspan x="2538" dy="15">* ProvideGlobal()</tspan><tspan x="2538" dy="15">* MagneticFile()</tspan><tspan x="2538" dy="15">* MagneticFormat()</tspan><tspan x="2538" dy="15">* MagneticInterpolatorType()</tspan><tspan x="2538" dy="15">* ElectricFile()</tspan><tspan x="2538" dy="15">* ElectricFormat()</tspan><tspan x="2538" dy="15">and 19 more...</tspan></text></g>

<g id="n_list_colour"><rect class="b" x="2741" y="2151" width="144" height="76"/><path class="dv" d="M2741,2177H2885M2741,2202H2885"/><text class="t" x="2813" y="2169">std::list&lt; G4Colour &gt;</text><text x="2749" y="2194">+ elements</text></g>

<g id="n_screenlayer"><rect class="b" x="2959" y="1895" width="170" height="588"/><path class="dv" d="M2959,1921H3129M2959,2157H3129"/><text class="t" x="3044" y="1913">BDSScreenLayer</text>
<text x="2967" y="1937"><tspan x="2967"># size</tspan><tspan x="2967" dy="15"># name</tspan><tspan x="2967" dy="15"># log</tspan><tspan x="2967" dy="15"># phys</tspan><tspan x="2967" dy="15"># solid</tspan><tspan x="2967" dy="15">- material</tspan><tspan x="2967" dy="15">- logName</tspan><tspan x="2967" dy="15">- solidName</tspan><tspan x="2967" dy="15">- grooveLog</tspan><tspan x="2967" dy="15">- grooveSolid</tspan><tspan x="2967" dy="15">- grooveWidth</tspan><tspan x="2967" dy="15">- grooveSpatialFrequency</tspan><tspan x="2967" dy="15">- nGrooves</tspan><tspan x="2967" dy="15">- colour</tspan><tspan x="2967" dy="15">- samplerID</tspan></text>
<text x="2967" y="2173"><tspan x="2967">+ BDSScreenLayer()</tspan><tspan x="2967" dy="15">+ ~BDSScreenLayer()</tspan><tspan x="2967" dy="15">+ SetPhys()</tspan><tspan x="2967" dy="15">+ SetColour()</tspan><tspan x="2967" dy="15">+ AssignSampler()</tspan><tspan x="2967" dy="15">+ GetSamplerID()</tspan><tspan x="2967" dy="15">+ GetLog()</tspan><tspan x="2967" dy="15">+ GetName()</tspan><tspan x="2967" dy="15">+ GetSize()</tspan><tspan x="2967" dy="15">+ GetPhys()</tspan><tspan x="2967" dy="15"># BDSScreenLayer()</tspan><tspan x="2967" dy="15">- Build()</tspan><tspan x="2967" dy="15">- BuildGroove()</tspan><tspan x="2967" dy="15">- BuildScreen()</tspan><tspan x="2967" dy="15">- SetVisAttributes()</tspan><tspan x="2967" dy="15">- CutGroove()</tspan><tspan x="2967" dy="15">- CutGrooves()</tspan><tspan x="2967" dy="15">* GetLog()</tspan><tspan x="2967" dy="15">* GetName()</tspan><tspan x="2967" dy="15">* GetSize()</tspan><tspan x="2967" dy="15">* GetPhys()</tspan></text></g>

<g id="n_set_geocomp"><rect class="b" x="858" y="3230" width="251" height="76"/><path class="dv" d="M858,3255H1109M858,3282H1109"/><text class="t" x="983" y="3248">std::set&lt; BDSGeometryComponent * &gt;</text></g>

<g id="n_accel"><rect class="b" x="1534" y="2645" width="211" height="1258"/><path class="dv" d="M1534,2671H1745M1534,2965H1745"/><text class="t" x="1639" y="2663">BDSAcceleratorComponent</text>
<text x="1542" y="2687"><tspan x="1542">+ lengthSafetyLarge</tspan><tspan x="1542" dy="15"># userLimits</tspan><tspan x="1542" dy="15"># name</tspan><tspan x="1542" dy="15"># arcLength</tspan><tspan x="1542" dy="15"># type</tspan><tspan x="1542" dy="15"># chordLength</tspan><tspan x="1542" dy="15"># angle</tspan><tspan x="1542" dy="15"># region</tspan><tspan x="1542" dy="15"># lengthSafety</tspan><tspan x="1542" dy="15"># emptyMaterial</tspan><tspan x="1542" dy="15"># worldMaterial</tspan><tspan x="1542" dy="15"># checkOverlaps</tspan><tspan x="1542" dy="15"># sensitiveOuter</tspan><tspan x="1542" dy="15"># sensitiveVacuum</tspan><tspan x="1542" dy="15"># containerVisAttr</tspan><tspan x="1542" dy="15">- initialised</tspan><tspan x="1542" dy="15">- copyNumber</tspan><tspan x="1542" dy="15">- inputFaceNormal</tspan><tspan x="1542" dy="15">- outputFaceNormal</tspan></text>
<text x="1542" y="2981"><tspan x="1542">+ BDSAcceleratorComponent()</tspan><tspan x="1542" dy="15">+ ~BDSAcceleratorComponent()</tspan><tspan x="1542" dy="15">+ Initialise()</tspan><tspan x="1542" dy="15">+ SetRegion()</tspan><tspan x="1542" dy="15">+ SetField()</tspan><tspan x="1542" dy="15">+ SetMinimumKineticEnergy()</tspan><tspan x="1542" dy="15">+ GetName()</tspan><tspan x="1542" dy="15">+ GetAngle()</tspan><tspan x="1542" dy="15">+ Sagitta()</tspan><tspan x="1542" dy="15">+ GetType()</tspan><tspan x="1542" dy="15">and 11 more...</tspan><tspan x="1542" dy="15">+ SetBiasVacuumList()</tspan><tspan x="1542" dy="15">+ SetBiasMaterialList()</tspan><tspan x="1542" dy="15">+ GetArcLength()</tspan><tspan x="1542" dy="15">+ GetChordLength()</tspan><tspan x="1542" dy="15">+ InputFaceNormal()</tspan><tspan x="1542" dy="15">+ OutputFaceNormal()</tspan><tspan x="1542" dy="15">+ AngledInputFace()</tspan><tspan x="1542" dy="15">+ AngledOutputFace()</tspan><tspan x="1542" dy="15">+ GetBiasVacuumList()</tspan><tspan x="1542" dy="15">+ GetBiasMaterialList()</tspan><tspan x="1542" dy="15">+ SetInputFaceNormal()</tspan><tspan x="1542" dy="15">+ SetOutputFaceNormal()</tspan><tspan x="1542" dy="15"># Build()</tspan><tspan x="1542" dy="15"># BuildContainerLogicalVolume()</tspan><tspan x="1542" dy="15"># SetAcceleratorVacuumLogical</tspan><tspan x="1542" dy="15">Volume()</tspan><tspan x="1542" dy="15"># SetAcceleratorVacuumLogical</tspan><tspan x="1542" dy="15">Volume()</tspan><tspan x="1542" dy="15"># BuildUserLimits()</tspan><tspan x="1542" dy="15"># AttachUserLimits()</tspan><tspan x="1542" dy="15">- BDSAcceleratorComponent()</tspan><tspan x="1542" dy="15">- operator=()</tspan><tspan x="1542" dy="15">- BDSAcceleratorComponent()</tspan><tspan x="1542" dy="15">* name</tspan><tspan x="1542" dy="15">* arcLength</tspan><tspan x="1542" dy="15">* type</tspan><tspan x="1542" dy="15">* chordLength</tspan><tspan x="1542" dy="15">* angle</tspan><tspan x="1542" dy="15">* region</tspan><tspan x="1542" dy="15">* lengthSafety</tspan><tspan x="1542" dy="15">* emptyMaterial</tspan><tspan x="1542" dy="15">* worldMaterial</tspan><tspan x="1542" dy="15">* checkOverlaps</tspan><tspan x="1542" dy="15">* sensitiveOuter</tspan><tspan x="1542" dy="15">* sensitiveVacuum</tspan><tspan x="1542" dy="15">* containerVisAttr</tspan><tspan x="1542" dy="15">* SetBiasVacuumList()</tspan><tspan x="1542" dy="15">* SetBiasMaterialList()</tspan><tspan x="1542" dy="15">* GetArcLength()</tspan><tspan x="1542" dy="15">* GetChordLength()</tspan><tspan x="1542" dy="15">* InputFaceNormal()</tspan><tspan x="1542" dy="15">* OutputFaceNormal()</tspan><tspan x="1542" dy="15">* AngledInputFace()</tspan><tspan x="1542" dy="15">* AngledOutputFace()</tspan><tspan x="1542" dy="15">* GetBiasVacuumList()</tspan><tspan x="1542" dy="15">* GetBiasMaterialList()</tspan><tspan x="1542" dy="15">* SetInputFaceNormal()</tspan><tspan x="1542" dy="15">* SetOutputFaceNormal()</tspan><tspan x="1542" dy="15">* operator=()</tspan><tspan x="1542" dy="15">* BDSAcceleratorComponent()</tspan></text></g>

<g id="n_simple"><rect class="b" x="1535" y="4143" width="210" height="183"/><path class="dv" d="M1535,4169H1745M1535,4194H1745"/><text class="t" x="1640" y="4161">BDSSimpleComponent</text><text x="1543" y="4210"><tspan x="1543">+ BDSSimpleComponent()</tspan><tspan x="1543" dy="15">+ BDSSimpleComponent()</tspan><tspan x="1543" dy="15">+ ~BDSSimpleComponent()</tspan><tspan x="1543" dy="15">+ BDSSimpleComponent()</tspan><tspan x="1543" dy="15">+ operator=()</tspan><tspan x="1543" dy="15">+ BDSSimpleComponent()</tspan><tspan x="1543" dy="15"># Build()</tspan><tspan x="1543" dy="15"># BuildContainerLogicalVolume()</tspan></text></g>
<g id="n_drift"><rect class="b" x="2045" y="4158" width="208" height="152"/><path class="dv" d="M2045,4184H2253M2045,4210H2253"/><text class="t" x="2149" y="4176">BDSDrift</text><text x="2053" y="4226"><tspan x="2053">+ BDSDrift()</tspan><tspan x="2053" dy="15">+ ~BDSDrift()</tspan><tspan x="2053" dy="15">+ Material()</tspan><tspan x="2053" dy="15"># Build()</tspan><tspan x="2053" dy="15">- BDSDrift()</tspan><tspan x="2053" dy="15">- BuildContainerLogicalVolume()</tspan></text></g>
<g id="n_list_g4double"><rect class="b" x="2436" y="4195" width="144" height="78"/><path class="dv" d="M2436,4222H2580M2436,4247H2580"/><text class="t" x="2508" y="4213">std::list&lt; G4double &gt;</text><text x="2444" y="4239">+ elements</text></g>
<g id="n_list_g4string"><rect class="b" x="2604" y="4195" width="139" height="78"/><path class="dv" d="M2604,4222H2743M2604,4247H2743"/><text class="t" x="2673" y="4213">std::list&lt; G4String &gt;</text><text x="2612" y="4239">+ elements</text></g>
<g id="n_screen"><rect class="g" x="2522" y="4562" width="137" height="197"/><path class="dv" d="M2522,4588H2659M2522,4674H2659" stroke="#666"/><text class="t" x="2590" y="4580">BDSScreen</text><text x="2530" y="4604"><tspan x="2530">- size</tspan><tspan x="2530" dy="15">- screenAngle</tspan><tspan x="2530" dy="15">- screenPos</tspan><tspan x="2530" dy="15">- screenRot</tspan><tspan x="2530" dy="15">- nLayers</tspan></text><text x="2530" y="4690"><tspan x="2530">+ BDSScreen()</tspan><tspan x="2530" dy="15">+ ~BDSScreen()</tspan><tspan x="2530" dy="15">+ AddScreenLayer()</tspan><tspan x="2530" dy="15">- Build()</tspan><tspan x="2530" dy="15">- PlaceScreen()</tspan></text></g>
<g id="n_colourwheel"><rect class="b" x="2684" y="3199" width="152" height="137"/><path class="dv" d="M2684,3224H2836M2684,3253H2836"/><text class="t" x="2760" y="3217">BDSColourWheel</text><text x="2692" y="3269"><tspan x="2692">+ BDSColourWheel()</tspan><tspan x="2692" dy="15">+ ~BDSColourWheel()</tspan><tspan x="2692" dy="15">+ Colour()</tspan><tspan x="2692" dy="15">+ Spin()</tspan><tspan x="2692" dy="15">+ Reset()</tspan></text></g>
<g id="n_map_screenlayer"><rect class="b" x="2860" y="3222" width="147" height="91"/><path class="dv" d="M2860,3263H3007M2860,3287H3007"/><text class="t" x="2933" y="3238">std::map&lt; G4String,</text><text class="t" x="2933" y="3253">BDSScreenLayer * &gt;</text><text x="2868" y="3280">+ keys</text></g>
<g id="n_vector_screenlayer"><rect class="b" x="3031" y="3230" width="218" height="76"/><path class="dv" d="M3031,3255H3249M3031,3281H3249"/><text class="t" x="3140" y="3248">std::vector&lt; BDSScreenLayer * &gt;</text></g>
<g id="n_vector_g4double"><rect class="b" x="3272" y="3230" width="163" height="76"/><path class="dv" d="M3272,3255H3435M3272,3281H3435"/><text class="t" x="3353" y="3248">std::vector&lt; G4double &gt;</text><text x="3280" y="3272">+ elements</text></g>
<g id="n_multilayer"><rect class="b" x="2846" y="3971" width="174" height="526"/><path class="dv" d="M2846,3997H3020M2846,4095H3020"/><text class="t" x="2933" y="3989">BDSMultilayerScreen</text><text x="2854" y="4013"><tspan x="2854">- xysize</tspan><tspan x="2854" dy="15">- name</tspan><tspan x="2854" dy="15">- size</tspan><tspan x="2854" dy="15">- log</tspan><tspan x="2854" dy="15">- phys</tspan><tspan x="2854" dy="15">- solid</tspan></text><text x="2854" y="4111"><tspan x="2854">+ BDSMultilayerScreen()</tspan><tspan x="2854" dy="15">+ ~BDSMultilayerScreen()</tspan><tspan x="2854" dy="15">+ AddScreenLayer()</tspan><tspan x="2854" dy="15">+ AddScreenLayer()</tspan><tspan x="2854" dy="15">+ GetSize()</tspan><tspan x="2854" dy="15">+ ScreenLayer()</tspan><tspan x="2854" dy="15">+ ScreenLayer()</tspan><tspan x="2854" dy="15">+ LastLayer()</tspan><tspan x="2854" dy="15">+ NLayers()</tspan><tspan x="2854" dy="15">+ SetPhys()</tspan><tspan x="2854" dy="15">+ Build()</tspan><tspan x="2854" dy="15">+ Place()</tspan><tspan x="2854" dy="15">+ ReflectiveSurface()</tspan><tspan x="2854" dy="15">+ RoughSurface()</tspan><tspan x="2854" dy="15">- ComputeDimensions()</tspan><tspan x="2854" dy="15">- BuildMotherVolume()</tspan><tspan x="2854" dy="15">- PlaceLayers()</tspan><tspan x="2854" dy="15">- BDSMultilayerScreen()</tspan><tspan x="2854" dy="15">- BDSMultilayerScreen()</tspan><tspan x="2854" dy="15">- operator=()</tspan><tspan x="2854" dy="15">* log</tspan><tspan x="2854" dy="15">* phys</tspan><tspan x="2854" dy="15">* solid</tspan><tspan x="2854" dy="15">* BDSMultilayerScreen()</tspan><tspan x="2854" dy="15">* BDSMultilayerScreen()</tspan><tspan x="2854" dy="15">* operator=()</tspan></text></g>
</svg>
